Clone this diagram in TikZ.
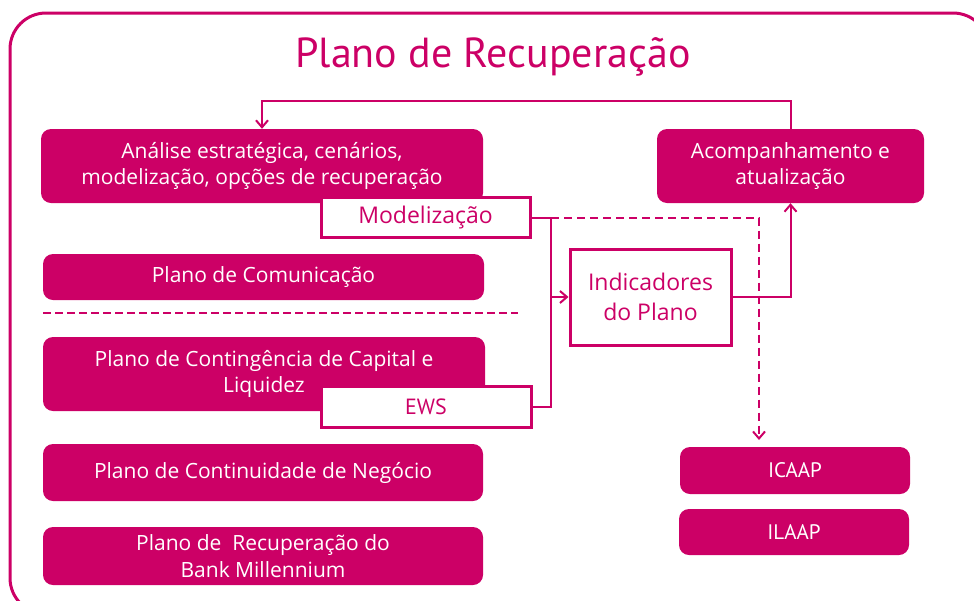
\documentclass[tikz,border=0pt]{standalone}
\usepackage{fontspec}
\setmainfont{PT Sans}
\newfontfamily\widefont{Open Sans}
\usetikzlibrary{arrows.meta}
\definecolor{mag}{RGB}{204,0,102}
\tikzset{
  fillbox/.style={fill=mag, draw=none, rounded corners=10pt, text=white, align=center, inner sep=0pt, font=\widefont\fontsize{21}{26.5}\selectfont},
  whitebox/.style={fill=white, draw=mag, line width=3pt, text=mag, align=center, inner sep=0pt, font=\widefont\fontsize{23}{29}\selectfont},
  conn/.style={draw=mag, line width=2pt},
  tip/.style={-{Straight Barb[length=7pt,width=12pt,line width=2pt]}},
  dsh/.style={dash pattern=on 8pt off 5pt}
}
\begin{document}
\begin{tikzpicture}[x=1pt,y=-1pt]
\useasboundingbox (0,0) rectangle (974,600);
\clip (0,0) rectangle (974,600);
% frame
\draw[mag, line width=3pt, rounded corners=36pt] (10,13) rectangle (989,614);
% title
\node[text=mag, font=\fontsize{42}{46}\selectfont] (title) at (493,57) {Plano de Recuperação};
% left boxes
\node[fillbox, minimum width=442pt, minimum height=74pt] (analise) at (262,166) {Análise estratégica, cenários,\\modelização, opções de recuperação};
\node[fillbox, minimum width=441pt, minimum height=46pt] (comun) at (263.5,277) {Plano de Comunicação};
\node[fillbox, minimum width=442pt, minimum height=74pt] (conting) at (264,374) {Plano de Contingência de Capital e\\Liquidez};
\node[fillbox, minimum width=440pt, minimum height=57pt] (contin) at (263,472.5) {Plano de Continuidade de Negócio};
\node[fillbox, minimum width=440pt, minimum height=58pt] (recup) at (263,556) {Plano de\ \ Recuperação do\\Bank Millennium};
% right boxes
\node[fillbox, minimum width=267pt, minimum height=74pt] (acomp) at (790.5,166) {Acompanhamento e\\atualização};
\node[fillbox, minimum width=230pt, minimum height=47pt, font=\fontsize{21}{25}\selectfont] (icaap) at (795,470.5) {ICAAP};
\node[fillbox, minimum width=230pt, minimum height=46pt, font=\fontsize{21}{25}\selectfont] (ilaap) at (794,532) {ILAAP};
% white boxes
\node[whitebox, minimum width=209pt, minimum height=40pt] (model) at (425.5,217.5) {Modelização};
\node[whitebox, minimum width=210pt, minimum height=41pt, font=\fontsize{22}{25}\selectfont] (ews) at (426,406.5) {EWS};
\node[whitebox, minimum width=161pt, minimum height=96pt, font=\widefont\fontsize{23}{30}\selectfont] (indic) at (650.5,297) {Indicadores\\do Plano};
% coordinates
\coordinate (jx) at (551,297);
\coordinate (jm) at (551,217.5);
\coordinate (topy) at (0,101);
\coordinate (dend) at (759,440);
\coordinate (sepl) at (43,313);
\coordinate (sepr) at (518,313);
% separator
\draw[conn, dash pattern=on 8pt off 4pt] (sepl) -- (sepr);
% connectors
\draw[conn, tip] (model.east) -| (jx) -- (indic.west);
\draw[conn] (ews.east) -| (jx);
\draw[conn, tip] (indic.east) -| (acomp.south);
\draw[conn, tip] (acomp.north) -- (acomp.north |- topy) -| (analise.north);
\draw[conn, dsh, tip] (jm) -| (dend);
\end{tikzpicture}
\end{document}
